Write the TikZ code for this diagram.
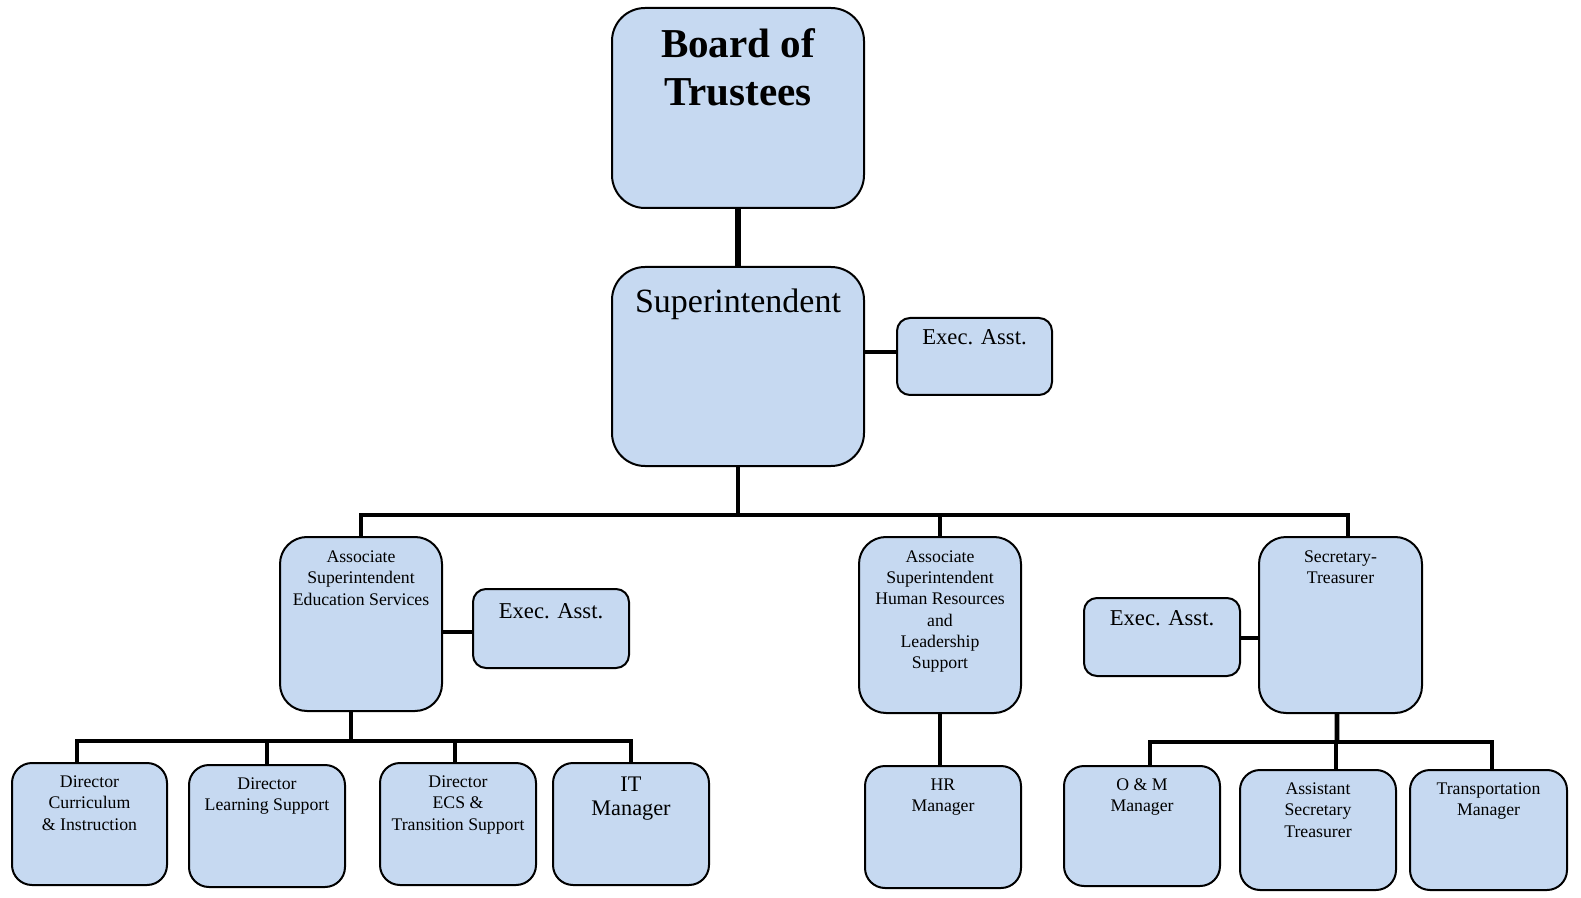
\documentclass[tikz,border=0pt]{standalone}
\usepackage{fontspec}
\setmainfont{Liberation Serif}
\definecolor{boxfill}{HTML}{C6D9F1}
\newcommand\tl[1]{\begin{tabular}[t]{@{}c@{}}#1\end{tabular}}
\tikzset{
  x=0.75pt, y=-0.75pt,
  orgbox/.style n args={3}{draw=black, line width=1.5pt, fill=boxfill, inner sep=0pt,
     minimum width=#1*0.75pt, minimum height=#2*0.75pt, rounded corners=#3*0.75pt},
  txt/.style={anchor=base, inner sep=0pt, align=center},
  smallfont/.style={font={\fontsize{13.3pt}{16.3pt}\selectfont}},
  execfont/.style={font={\fontsize{17pt}{20pt}\selectfont}},
  conn/.style={line width=3.6pt, line join=miter},
  sconn/.style={line width=3pt},
}
\begin{document}
\begin{tikzpicture}
\useasboundingbox (0,0) rectangle (1581,898);
% boxes: centre, width, height, radius
\node[orgbox={252}{200}{33}] (board) at (738,108) {};
\node[orgbox={252}{199}{33}] (sup) at (738,366.5) {};
\node[orgbox={155}{77}{13}] (execA) at (974.5,356.5) {};
\node[orgbox={162}{174}{27}] (ased) at (361,624) {};
\node[orgbox={156}{79}{13}] (execB) at (551,628.5) {};
\node[orgbox={162}{176}{27}] (ashr) at (940,625) {};
\node[orgbox={163}{176}{27}] (st) at (1340.5,625) {};
\node[orgbox={156}{78}{13}] (execC) at (1162,637) {};
\node[orgbox={155}{122}{20}] (dci) at (89.5,824) {};
\node[orgbox={156}{122}{20}] (dls) at (267,826) {};
\node[orgbox={156}{122}{20}] (decs) at (458,824) {};
\node[orgbox={156}{122}{20}] (itm) at (631,824) {};
\node[orgbox={156}{122}{20}] (hrm) at (943,827) {};
\node[orgbox={156}{120}{20}] (om) at (1142,826) {};
\node[orgbox={156}{120}{20}] (ast) at (1318,830) {};
\node[orgbox={157}{120}{20}] (trm) at (1488.5,830) {};
% texts
\node[txt, font={\bfseries\fontsize{30.8pt}{36pt}\selectfont}] (board-t) at (738,58) {\tl{Board of\\Trustees}};
\node[txt, font={\fontsize{25.5pt}{30pt}\selectfont}] (sup-t) at (738,313) {Superintendent};
\node[txt, execfont] (execA-t) at (974.5,345) {Exec. Asst.};
\node[txt, smallfont] (ased-t) at (361,562) {\tl{Associate\\Superintendent\\Education Services}};
\node[txt, execfont] (execB-t) at (551,618) {Exec. Asst.};
\node[txt, font={\fontsize{13.3pt}{16pt}\selectfont}] (ashr-t) at (940,562) {\tl{Associate\\Superintendent\\Human Resources\\and\\Leadership\\Support}};
\node[txt, smallfont] (st-t) at (1340.5,562) {\tl{Secretary-\\Treasurer}};
\node[txt, execfont] (execC-t) at (1162,625) {Exec. Asst.};
\node[txt, smallfont] (dci-t) at (89.5,787) {\tl{Director\\Curriculum\\\& Instruction}};
\node[txt, smallfont] (dls-t) at (267,789) {\tl{Director\\Learning Support}};
\node[txt, smallfont] (decs-t) at (458,787) {\tl{Director\\ECS \&\\Transition Support}};
\node[txt, font={\fontsize{16.7pt}{18.7pt}\selectfont}] (itm-t) at (631,791) {\tl{IT\\Manager}};
\node[txt, smallfont] (hrm-t) at (943,790) {\tl{HR\\Manager}};
\node[txt, smallfont] (om-t) at (1142,790) {\tl{O \& M\\Manager}};
\node[txt, smallfont] (ast-t) at (1318,794) {\tl{Assistant\\Secretary\\Treasurer}};
\node[txt, smallfont] (trm-t) at (1488.5,794) {\tl{Transportation\\Manager}};
% connectors
\draw[conn, line width=4.5pt] (board.south) -- (sup.north);
\draw[sconn] (execA.west |- 0,352) -- (sup.east |- 0,352);
\coordinate (bus1) at (738,515);
\draw[conn] (sup.south) -- (bus1);
\draw[conn] (bus1) -| (ased.north);
\draw[conn] (bus1) -| (ashr.north);
\draw[conn] (bus1) -| ([xshift=5.6pt]st.north);
\draw[sconn] (ased.east |- 0,632) -- (execB.west |- 0,632);
\draw[sconn] (st.west |- 0,638) -- (execC.east |- 0,638);
% education services children
\coordinate (bus2) at (351,741);
\draw[conn] ([xshift=-7.5pt]ased.south) -- (bus2);
\draw[conn] (bus2) -| ([xshift=-9.4pt]dci.north);
\draw[conn] (bus2) -| (dls.north);
\draw[conn] (bus2) -| ([xshift=-2.3pt]decs.north);
\draw[conn] (bus2) -| (itm.north);
% HR
\draw[conn] (ashr.south) -- (ashr.south |- hrm.north);
% secretary-treasurer children
\coordinate (bus3) at (1337,742);
\draw[conn] ([xshift=-2.6pt]st.south) -- (bus3);
\draw[conn] (bus3) -| ([xshift=6pt]om.north);
\draw[conn] (bus3) -| ([xshift=13.5pt]ast.north);
\draw[conn] (bus3) -| ([xshift=2.6pt]trm.north);
\end{tikzpicture}
\end{document}
